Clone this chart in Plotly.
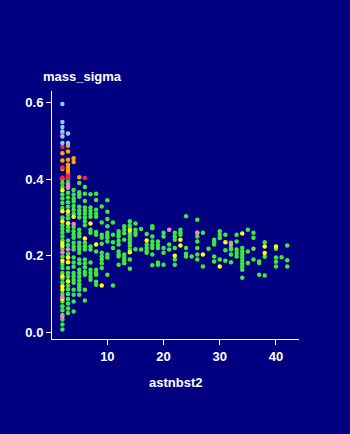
import plotly.graph_objects as go

# ---- data ----
green_cols = [2, 3, 4, 5, 6, 7, 8, 9, 10, 11, 12, 13, 14, 15, 16, 17, 18, 19, 20, 21,
              22, 23, 24, 25, 26, 27, 28, 29, 30, 31, 32, 33, 34, 35, 36, 37, 38, 40, 41, 42]
green_vals = [
    [0.007, 0.02, 0.033, 0.045, 0.057, 0.068, 0.08, 0.1, 0.13, 0.14, 0.155, 0.168, 0.178, 0.198,
     0.218, 0.24, 0.25, 0.26, 0.27, 0.28, 0.3, 0.325, 0.338, 0.35, 0.36, 0.38, 0.39],
    [0.05, 0.062, 0.075, 0.087, 0.1, 0.112, 0.122, 0.145, 0.155, 0.168, 0.205, 0.228, 0.24,
     0.265, 0.275, 0.298, 0.308, 0.328, 0.34, 0.352, 0.365, 0.39, 0.4],
    [0.372, 0.36, 0.35, 0.342, 0.33, 0.32, 0.31, 0.275, 0.264, 0.255, 0.247, 0.234, 0.224, 0.216,
     0.195, 0.182, 0.171, 0.155, 0.146, 0.137, 0.129, 0.111, 0.098, 0.08, 0.054],
    [0.39, 0.366, 0.36, 0.354, 0.328, 0.318, 0.31, 0.3, 0.268, 0.258, 0.25, 0.234, 0.225, 0.216,
     0.208, 0.19, 0.18, 0.163, 0.155, 0.145, 0.135, 0.125, 0.118, 0.111, 0.098],
    [0.38, 0.362, 0.343, 0.326, 0.318, 0.31, 0.3, 0.29, 0.28, 0.234, 0.225, 0.216, 0.19, 0.18,
     0.17, 0.158, 0.15, 0.111, 0.083],
    [0.361, 0.326, 0.318, 0.31, 0.302, 0.268, 0.26, 0.224, 0.216, 0.182, 0.163, 0.155, 0.145, 0.137],
    [0.362, 0.346, 0.32, 0.31, 0.302, 0.262, 0.255, 0.211, 0.163, 0.155, 0.15, 0.132, 0.124],
    [0.329, 0.287, 0.255, 0.247, 0.231, 0.208, 0.198, 0.19, 0.18, 0.168],
    [0.345, 0.315, 0.296, 0.277, 0.26, 0.252, 0.247, 0.237, 0.203, 0.195, 0.15],
    [0.287, 0.255, 0.235, 0.22, 0.122],
    [0.264, 0.257, 0.25, 0.239, 0.229, 0.211, 0.203, 0.198, 0.176],
    [0.277, 0.268, 0.259, 0.242, 0.203, 0.195, 0.188, 0.18],
    [0.29, 0.28, 0.272, 0.258, 0.25, 0.242, 0.234, 0.226, 0.216, 0.19, 0.166],
    [0.284, 0.268, 0.26, 0.255, 0.217],
    [0.27, 0.216],
    [0.257, 0.229, 0.22, 0.212, 0.208],
    [0.277, 0.272, 0.25, 0.237, 0.228, 0.22, 0.203, 0.175],
    [0.237, 0.228, 0.22, 0.182, 0.176],
    [0.26, 0.25, 0.22, 0.208, 0.176],
    [0.229, 0.216],
    [0.26, 0.25, 0.242, 0.22, 0.19, 0.176],
    [0.268, 0.26, 0.255],
    [0.303, 0.22, 0.205, 0.198],
    [0.198],
    [0.294, 0.26, 0.25, 0.237, 0.22, 0.203, 0.19],
    [0.26, 0.172],
    [0.218],
    [0.242, 0.235, 0.229, 0.198, 0.185],
    [0.264, 0.255, 0.246, 0.19],
    [0.255, 0.214, 0.187],
    [0.234, 0.22, 0.216, 0.203, 0.183],
    [0.255, 0.237, 0.216, 0.207, 0.198],
    [0.22, 0.211, 0.203, 0.195, 0.187, 0.179, 0.171, 0.163, 0.142],
    [0.268, 0.211, 0.181],
    [0.26, 0.247, 0.19],
    [0.185, 0.181, 0.15],
    [0.235, 0.197, 0.148],
    [0.218, 0.195, 0.184, 0.172],
    [0.196],
    [0.227, 0.188, 0.172],
]

yellow_x = [2, 2, 2, 2, 2, 2, 2, 2, 2, 2, 3, 3, 3, 3, 3, 4, 6, 7, 8, 9,
            14, 14, 17, 22, 23, 23, 27, 30, 31, 34, 38, 38, 40]
yellow_y = [0.371, 0.316, 0.29, 0.233, 0.226, 0.187, 0.146, 0.12, 0.111, 0.087,
            0.316, 0.285, 0.195, 0.183, 0.133, 0.302, 0.245, 0.284, 0.229, 0.122,
            0.266, 0.209, 0.24, 0.2, 0.242, 0.227, 0.203, 0.172, 0.235, 0.258, 0.224, 0.207, 0.224]

olive_x = [36]
olive_y = [0.218]

pink_x = [3, 3, 2, 3, 4, 2, 2, 21, 26, 32]
pink_y = [0.385, 0.378, 0.209, 0.217, 0.283, 0.092, 0.041, 0.268, 0.26, 0.229]

orange_x = [2, 2, 2, 2, 3, 3, 3, 3, 3, 3, 3, 4, 4, 5]
orange_y = [0.468, 0.449, 0.427, 0.401, 0.488, 0.473, 0.451, 0.438, 0.43, 0.422, 0.414,
            0.455, 0.445, 0.405]

red_x = [2, 2, 2, 2, 3, 3, 6]
red_y = [0.519, 0.485, 0.431, 0.404, 0.41, 0.403, 0.403]

blue_x = [2, 2, 2, 2, 2, 2, 3, 3]
blue_y = [0.597, 0.55, 0.537, 0.525, 0.512, 0.495, 0.52, 0.495]

x_ticks = [10, 20, 30, 40]
y_ticks = [0.0, 0.2, 0.4, 0.6]

# ---- build ----
gx, gy = [], []
for c, vals in zip(green_cols, green_vals):
    for v in vals:
        gx.append(c)
        gy.append(v)

BG = "#000080"
FONT = "Liberation Sans, Arial, sans-serif"

fig = go.Figure()
for xs, ys, col in [
    (gx, gy, "#3ee83e"),
    (yellow_x, yellow_y, "#ffff00"),
    (olive_x, olive_y, "#99cc33"),
    (pink_x, pink_y, "#ff80c0"),
    (orange_x, orange_y, "#ffa500"),
    (red_x, red_y, "#ff1f4f"),
    (blue_x, blue_y, "#87cefa"),
]:
    fig.add_trace(go.Scatter(x=xs, y=ys, mode="markers",
                             marker=dict(size=4.5, color=col, line=dict(width=0)),
                             showlegend=False, hoverinfo="x+y"))

axis_common = dict(showline=True, linecolor="white", linewidth=1, showgrid=False,
                   zeroline=False, ticks="outside", ticklen=5, tickcolor="white",
                   tickwidth=1, tickfont=dict(family=FONT, size=13, color="white"))

fig.update_xaxes(range=[0.15, 44.1], tickvals=x_ticks,
                 ticktext=[f"<b>{t}</b>" for t in x_ticks], **axis_common)
fig.update_yaxes(range=[-0.018, 0.631], tickvals=y_ticks,
                 ticktext=[f"<b>{t:.1f}</b>" for t in y_ticks], **axis_common)

fig.add_annotation(text="<b>mass_sigma</b>", xref="paper", yref="paper",
                   x=-0.046, y=1.06, xanchor="left", yanchor="middle", showarrow=False,
                   font=dict(family=FONT, size=13, color="white"))
fig.add_annotation(text="<b>astnbst2</b>", xref="paper", yref="paper",
                   x=0.5, y=-0.177, xanchor="center", yanchor="middle", showarrow=False,
                   font=dict(family=FONT, size=13, color="white"))

fig.update_layout(width=350, height=434, paper_bgcolor=BG, plot_bgcolor=BG,
                  margin=dict(l=52, r=51, t=91, b=95),
                  font=dict(family=FONT, size=13, color="white"))

fig.write_html("out.html")
